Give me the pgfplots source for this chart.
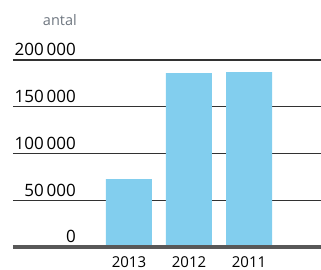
\documentclass[border=0pt]{standalone}
\usepackage{fontspec}
\setmainfont{Open Sans}
\usepackage{pgfplots}
\pgfplotsset{compat=1.18}
\definecolor{barblue}{RGB}{130,206,238}
\definecolor{gridc}{RGB}{50,50,50}
\definecolor{basec}{RGB}{88,88,88}
\definecolor{antalc}{RGB}{110,118,128}
\begin{document}
\begin{tikzpicture}
\useasboundingbox (-13pt,-22.5pt) rectangle (308pt,247.5pt);
\begin{axis}[
  at={(0,0)}, anchor=south west,
  scale only axis, width=308pt, height=187.5pt,
  xmin=-0.933, xmax=4.2, ymin=0, ymax=200000,
  scaled y ticks=false,
  axis line style={draw=none},
  major tick length=0pt,
  xtick={1,2,3}, xticklabels={2013,2012,2011},
  ytick={0,50000,100000,150000,200000},
  yticklabels={0,50\,000,100\,000,150\,000,200\,000},
  xticklabel style={font=\fontsize{15}{15}\selectfont, inner sep=0pt, anchor=base, yshift=-20pt},
  yticklabel style={font=\fontsize{17}{17}\selectfont, inner sep=0pt, anchor=base east, xshift=63pt, yshift=4.5pt},
  ymajorgrids, grid style={line width=1.1pt, color=gridc},
  clip=false,
]
\addplot[ybar, bar width=46pt, fill=barblue, draw=none] coordinates {(1,73000) (2,186000) (3,187100)};
\draw[line width=4pt, color=basec] (rel axis cs:0,0) -- (rel axis cs:1,0);
\end{axis}
\node[anchor=base east, inner sep=0pt, text=antalc, font=\fontsize{14.5}{14.5}\selectfont] at (64pt,221.5pt) {antal};
\end{tikzpicture}
\end{document}
